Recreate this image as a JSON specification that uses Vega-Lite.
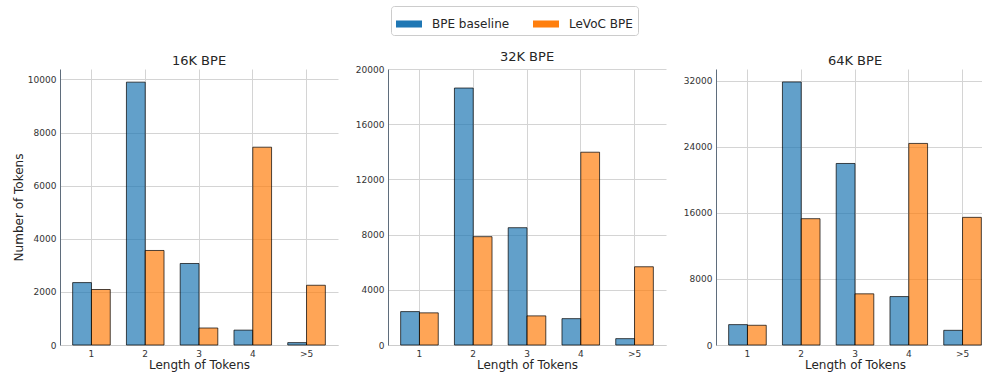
{
  "$schema": "https://vega.github.io/schema/vega-lite/v6.json",
  "padding": {"left": 12, "top": 5, "right": 0, "bottom": 4},
  "background": "white",
  "spacing": 50,
  "bounds": "flush",
  "data": {"values": [
    {"panel": "16K BPE", "length": "1", "series": "BPE baseline", "count": 2350},
    {"panel": "16K BPE", "length": "1", "series": "LeVoC BPE", "count": 2090},
    {"panel": "16K BPE", "length": "2", "series": "BPE baseline", "count": 9900},
    {"panel": "16K BPE", "length": "2", "series": "LeVoC BPE", "count": 3560},
    {"panel": "16K BPE", "length": "3", "series": "BPE baseline", "count": 3070},
    {"panel": "16K BPE", "length": "3", "series": "LeVoC BPE", "count": 640},
    {"panel": "16K BPE", "length": "4", "series": "BPE baseline", "count": 560},
    {"panel": "16K BPE", "length": "4", "series": "LeVoC BPE", "count": 7450},
    {"panel": "16K BPE", "length": ">5", "series": "BPE baseline", "count": 90},
    {"panel": "16K BPE", "length": ">5", "series": "LeVoC BPE", "count": 2250},
    {"panel": "32K BPE", "length": "1", "series": "BPE baseline", "count": 2420},
    {"panel": "32K BPE", "length": "1", "series": "LeVoC BPE", "count": 2330},
    {"panel": "32K BPE", "length": "2", "series": "BPE baseline", "count": 18620},
    {"panel": "32K BPE", "length": "2", "series": "LeVoC BPE", "count": 7850},
    {"panel": "32K BPE", "length": "3", "series": "BPE baseline", "count": 8500},
    {"panel": "32K BPE", "length": "3", "series": "LeVoC BPE", "count": 2110},
    {"panel": "32K BPE", "length": "4", "series": "BPE baseline", "count": 1910},
    {"panel": "32K BPE", "length": "4", "series": "LeVoC BPE", "count": 13970},
    {"panel": "32K BPE", "length": ">5", "series": "BPE baseline", "count": 460},
    {"panel": "32K BPE", "length": ">5", "series": "LeVoC BPE", "count": 5670},
    {"panel": "64K BPE", "length": "1", "series": "BPE baseline", "count": 2470},
    {"panel": "64K BPE", "length": "1", "series": "LeVoC BPE", "count": 2390},
    {"panel": "64K BPE", "length": "2", "series": "BPE baseline", "count": 31880},
    {"panel": "64K BPE", "length": "2", "series": "LeVoC BPE", "count": 15310},
    {"panel": "64K BPE", "length": "3", "series": "BPE baseline", "count": 22000},
    {"panel": "64K BPE", "length": "3", "series": "LeVoC BPE", "count": 6200},
    {"panel": "64K BPE", "length": "4", "series": "BPE baseline", "count": 5870},
    {"panel": "64K BPE", "length": "4", "series": "LeVoC BPE", "count": 24430},
    {"panel": "64K BPE", "length": ">5", "series": "BPE baseline", "count": 1780},
    {"panel": "64K BPE", "length": ">5", "series": "LeVoC BPE", "count": 15470}
  ]},
  "hconcat": [
    {
      "width": 278, "height": 276,
      "title": "16K BPE",
      "transform": [{"filter": "datum.panel === '16K BPE'"}],
      "mark": {"type": "bar", "fillOpacity": 0.7, "stroke": "black", "strokeOpacity": 0.7, "strokeWidth": 1},
      "encoding": {
        "x": {"field": "length", "type": "ordinal", "sort": ["1", "2", "3", "4", ">5"], "scale": {"paddingInner": 0, "paddingOuter": 0.085}, "axis": {"title": "Length of Tokens"}},
        "xOffset": {"field": "series", "type": "nominal", "sort": ["BPE baseline", "LeVoC BPE"], "scale": {"paddingInner": 0, "paddingOuter": 0.43}},
        "y": {"field": "count", "type": "quantitative", "scale": {"domain": [0, 10395], "nice": false}, "axis": {"title": "Number of Tokens", "format": "d", "values": [0, 2000, 4000, 6000, 8000, 10000]}},
        "color": {"field": "series", "type": "nominal", "sort": ["BPE baseline", "LeVoC BPE"], "scale": {"range": ["#1f77b4", "#ff7f0e"]}, "legend": {"title": null}}
      }
    },
    {
      "width": 278, "height": 276,
      "title": "32K BPE",
      "transform": [{"filter": "datum.panel === '32K BPE'"}],
      "mark": {"type": "bar", "fillOpacity": 0.7, "stroke": "black", "strokeOpacity": 0.7, "strokeWidth": 1},
      "encoding": {
        "x": {"field": "length", "type": "ordinal", "sort": ["1", "2", "3", "4", ">5"], "scale": {"paddingInner": 0, "paddingOuter": 0.085}, "axis": {"title": "Length of Tokens"}},
        "xOffset": {"field": "series", "type": "nominal", "sort": ["BPE baseline", "LeVoC BPE"], "scale": {"paddingInner": 0, "paddingOuter": 0.43}},
        "y": {"field": "count", "type": "quantitative", "scale": {"domain": [0, 20000], "nice": false}, "axis": {"title": null, "format": "d", "values": [0, 4000, 8000, 12000, 16000, 20000]}},
        "color": {"field": "series", "type": "nominal", "sort": ["BPE baseline", "LeVoC BPE"], "scale": {"range": ["#1f77b4", "#ff7f0e"]}, "legend": {"title": null}}
      }
    },
    {
      "width": 278, "height": 276,
      "title": "64K BPE",
      "transform": [{"filter": "datum.panel === '64K BPE'"}],
      "mark": {"type": "bar", "fillOpacity": 0.7, "stroke": "black", "strokeOpacity": 0.7, "strokeWidth": 1},
      "encoding": {
        "x": {"field": "length", "type": "ordinal", "sort": ["1", "2", "3", "4", ">5"], "scale": {"paddingInner": 0, "paddingOuter": 0.085}, "axis": {"title": "Length of Tokens"}},
        "xOffset": {"field": "series", "type": "nominal", "sort": ["BPE baseline", "LeVoC BPE"], "scale": {"paddingInner": 0, "paddingOuter": 0.43}},
        "y": {"field": "count", "type": "quantitative", "scale": {"domain": [0, 33450], "nice": false}, "axis": {"title": null, "format": "d", "values": [0, 8000, 16000, 24000, 32000]}},
        "color": {"field": "series", "type": "nominal", "sort": ["BPE baseline", "LeVoC BPE"], "scale": {"range": ["#1f77b4", "#ff7f0e"]}, "legend": {"title": null}}
      }
    }
  ],
  "config": {
    "font": "DejaVu Sans",
    "view": {"stroke": null},
    "title": {"fontSize": 13, "fontWeight": "normal", "color": "#262626", "offset": 1, "font": "DejaVu Sans"},
    "axis": {
      "labelFont": "DejaVu Sans", "titleFont": "DejaVu Sans",
      "labelFontSize": 9, "labelColor": "#333333",
      "titleFontSize": 12, "titleFontWeight": "normal", "titleColor": "#262626",
      "ticks": false, "labelPadding": 4,
      "gridColor": "#d4d4d4", "gridWidth": 1
    },
    "axisX": {"labelAngle": 0, "grid": true, "bandPosition": 0.5, "domainColor": "#cccccc", "titlePadding": 1},
    "axisY": {"grid": true, "domainColor": "#5f6d7c", "titlePadding": 2},
    "legend": {
      "orient": "none", "legendX": 331, "legendY": -63,
      "direction": "horizontal",
      "strokeColor": "#cccccc", "cornerRadius": 3, "padding": 5, "fillColor": "white",
      "symbolType": "M-1,-0.27L1,-0.27L1,0.27L-1,0.27Z", "symbolSize": 676,
      "symbolOpacity": 1, "symbolStrokeWidth": 0,
      "labelFont": "DejaVu Sans", "labelFontSize": 12, "labelColor": "#262626",
      "labelOffset": 10, "columnPadding": 23
    }
  }
}
